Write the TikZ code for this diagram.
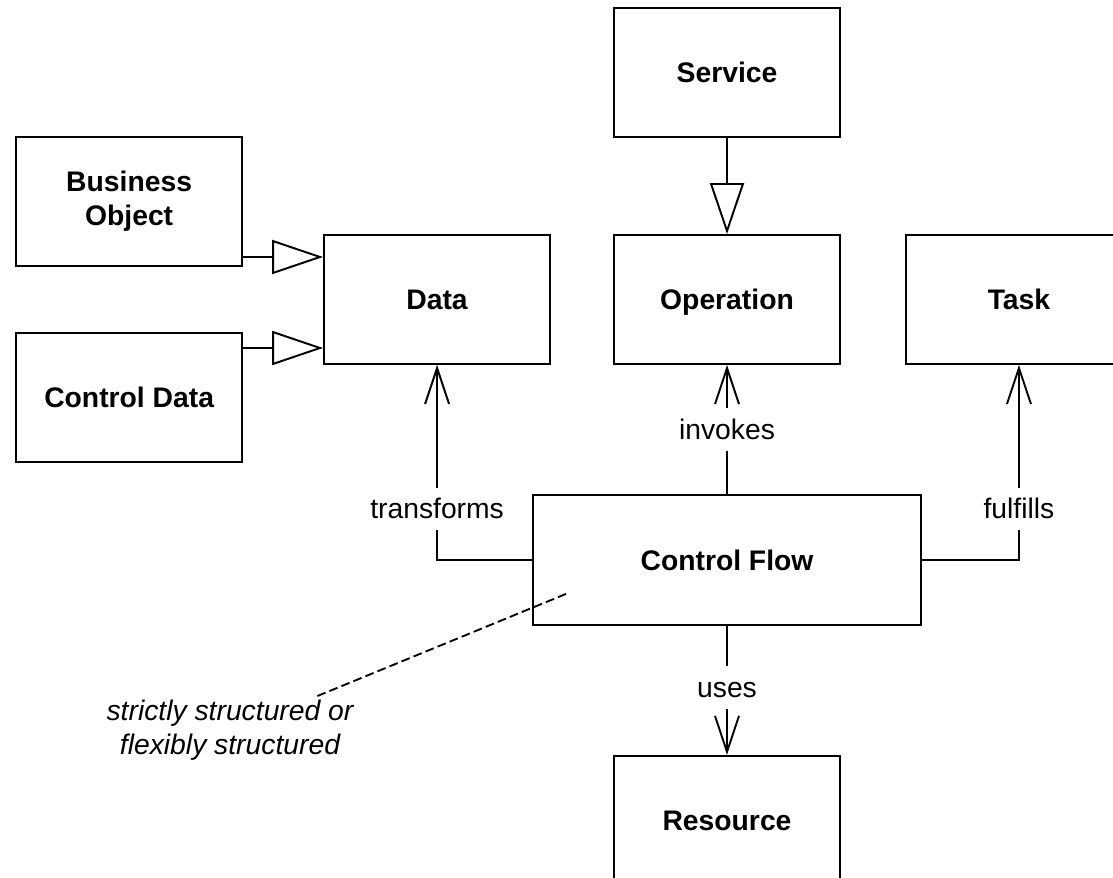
\documentclass[tikz,border=0pt]{standalone}
\usepackage{fontspec}
\setmainfont{Liberation Sans}
\usetikzlibrary{positioning,arrows.meta,calc}

\begin{document}
\begin{tikzpicture}[
  plain/.style={draw, line width=1.1pt, minimum width=4.52cm, minimum height=2.58cm,
              inner sep=0pt, align=center, font=\bfseries\fontsize{16.1pt}{19.5pt}\selectfont},
  box/.style={plain, text height=11.5pt, text depth=0pt},
  wide/.style={box, minimum width=7.76cm, minimum height=2.6cm},
  lbl/.style={inner xsep=2pt, inner ysep=0.22cm, text height=0.4cm, text depth=0pt,
              font=\fontsize{16.1pt}{19.5pt}\selectfont},
  remark/.style={align=center, inner sep=0pt, font=\itshape\fontsize{16.1pt}{19.35pt}\selectfont},
  line/.style={line width=1.1pt},
  gen/.style={line, -{Triangle[open, length=1.02cm, width=0.68cm]}},
  assoc/.style={line, -{Straight Barb[length=0.72cm, width=0.48cm]}}
]
  \useasboundingbox (0,0) rectangle (22.26,-17.56);

  \node[box] (op) at (14.54,-5.99) {Operation};
  \node[box, above=1.92cm of op] (svc) {Service};
  \node[box, left=1.24cm of op] (data) {Data};
  \node[box, right=1.28cm of op] (task) {Task};
  \node[wide, below=2.58cm of op] (cf) {Control Flow};
  \node[box, below=2.58cm of cf] (res) {Resource};
  \node[plain, above left=0.65cm and 1.6cm of data.west] (bo) {Business\\ Object};
  \node[box, below left=0.65cm and 1.6cm of data.west] (cd) {Control Data};

  % specialisations
  \coordinate (bo-out) at ([yshift=0.2cm]bo.south east);
  \coordinate (cd-out) at ([yshift=-0.32cm]cd.north east);
  \draw[gen] (bo-out) -- (bo-out -| data.west);
  \draw[gen] (cd-out) -- (cd-out -| data.west);
  \draw[gen] (svc) -- (op);

  % associations
  \node[lbl] (inv) at ($(op.south)!0.5!(cf.north)$) {invokes};
  \node[lbl] (trf) at ($(data.south |- cf.north)+(0,-0.3)$) {transforms};
  \node[lbl] (ful) at ($(task.south |- cf.north)+(0,-0.3)$) {fulfills};
  \node[lbl] (uses) at ($(cf.south)!0.5!(res.north)+(0,0.06)$) {uses};

  \draw[line] (cf) -- (inv);
  \draw[assoc] (inv) -- (op);
  \draw[line] (cf.west) -| (trf);
  \draw[assoc] (trf) -- (data);
  \draw[line] (cf.east) -| (ful);
  \draw[assoc] (ful) -- (task);
  \draw[line] (cf) -- (uses);
  \draw[assoc] (uses) -- (res);

  \node[remark] (note) at (4.6,-14.6) {strictly structured or\\ flexibly structured};
  \coordinate (cf-spot) at ([shift={(0.68cm,0.64cm)}]cf.south west);
  \coordinate (note-tip) at ([shift={(1.7cm,0.66cm)}]note.center);
  \draw[line width=1.05pt, dash pattern=on 5pt off 2.4pt] (cf-spot) -- (note-tip);
\end{tikzpicture}
\end{document}
